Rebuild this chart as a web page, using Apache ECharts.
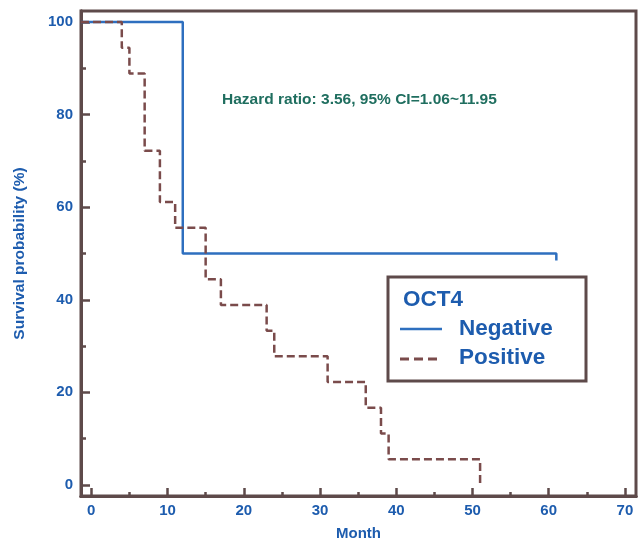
<!DOCTYPE html>
<html>
<head>
<meta charset="utf-8">
<script src="https://cdn.jsdelivr.net/npm/echarts@6/dist/echarts.min.js"></script>
<style>html,body{margin:0;padding:0;background:#fff}#c{width:638px;height:541px}</style>
</head>
<body>
<div id="c"></div>
<script>
// Data
var negativeTimes = [-1.35, 12, 61, 61];
var negativeSurv  = [100, 50, 50, 48.5];
var positiveTimes = [-1.35, 4, 5, 7, 9, 11, 15, 17, 23, 24, 31, 36, 38, 39, 51];
var positiveSurv  = [100, 94.44, 88.89, 72.22, 61.11, 55.56, 44.44, 38.89, 33.33, 27.78, 22.22, 16.67, 11.11, 5.56, 0];
var xMajorTicks = [0, 10, 20, 30, 40, 50, 60, 70];
var xMinorTicks = [5, 15, 25, 35, 45, 55, 65];
var yMajorTicks = [0, 20, 40, 60, 80, 100];
var yMinorTicks = [10, 30, 50, 70, 90];
var legendTitle = 'OCT4';
var seriesNames = ['Negative', 'Positive'];
var annotation = 'Hazard ratio: 3.56, 95% CI=1.06~11.95';

var XMIN = -1.35, XMAX = 71.45, YMIN = -2.4, YMAX = 102.4;
var frame = '#5e4a4a', blue = '#2e6fbf', txtBlue = '#1d5cae', brown = '#7a4b4b', green = '#1f6e5f';
var font = 'Liberation Sans, Arial, sans-serif';

function zip(a, b) { return a.map(function (v, i) { return [v, b[i]]; }); }

function xAxisDef(ticks, len, labels) {
  return {
    type: 'value', min: XMIN, max: XMAX, position: 'bottom',
    axisLine: { show: true, onZero: false, lineStyle: { color: frame, width: 3 } },
    axisTick: { show: true, inside: true, length: len, customValues: ticks, lineStyle: { color: frame, width: 2.5 } },
    axisLabel: labels ? { show: true, customValues: ticks, color: txtBlue, fontWeight: 'bold', fontSize: 15, fontFamily: font, margin: 7 } : { show: false },
    splitLine: { show: false },
    name: labels ? 'Month' : '', nameLocation: 'middle', nameGap: 30,
    nameTextStyle: { color: txtBlue, fontWeight: 'bold', fontSize: 15, fontFamily: font }
  };
}
function yAxisDef(ticks, len, labels) {
  return {
    type: 'value', min: YMIN, max: YMAX, position: 'left',
    axisLine: { show: true, onZero: false, lineStyle: { color: frame, width: 3 } },
    axisTick: { show: true, inside: true, length: len, customValues: ticks, lineStyle: { color: frame, width: 2.5 } },
    axisLabel: labels ? { show: true, customValues: ticks, color: txtBlue, fontWeight: 'bold', fontSize: 15, fontFamily: font, margin: 8 } : { show: false },
    splitLine: { show: false },
    name: labels ? 'Survival probability (%)' : '', nameLocation: 'middle', nameGap: 53,
    nameTextStyle: { color: txtBlue, fontWeight: 'bold', fontSize: 15.5, fontFamily: font }
  };
}

var chart = echarts.init(document.getElementById('c'), null, { renderer: 'canvas' });
chart.setOption({
  animation: false,
  grid: { left: 81, right: 2, top: 11, bottom: 45, show: true, borderColor: frame, borderWidth: 3, backgroundColor: 'transparent', containLabel: false, outerBoundsMode: 'none' },
  xAxis: [xAxisDef(xMajorTicks, 8, true), xAxisDef(xMinorTicks, 4, false)],
  yAxis: [yAxisDef(yMajorTicks, 9, true), yAxisDef(yMinorTicks, 5, false)],
  series: [
    { name: seriesNames[0], type: 'line', step: 'end', xAxisIndex: 0, yAxisIndex: 0,
      data: zip(negativeTimes, negativeSurv), symbol: 'none',
      lineStyle: { color: blue, width: 2.5 }, z: 2 },
    { name: seriesNames[1], type: 'line', step: 'end', xAxisIndex: 0, yAxisIndex: 0,
      data: zip(positiveTimes, positiveSurv), symbol: 'none',
      lineStyle: { color: brown, width: 2.5, type: [8, 4] }, z: 3 }
  ],
  graphic: [
    { type: 'text', x: 222, y: 100, style: { text: annotation, fill: green, font: 'bold 15.5px ' + font, verticalAlign: 'middle' } },
    { type: 'rect', shape: { x: 388, y: 277, width: 198, height: 104 }, style: { fill: '#fff', stroke: frame, lineWidth: 3 }, z: 10 },
    { type: 'text', x: 403, y: 300, style: { text: legendTitle, fill: txtBlue, font: 'bold 22.5px ' + font, verticalAlign: 'middle' }, z: 11 },
    { type: 'line', shape: { x1: 400, y1: 329, x2: 442, y2: 329 }, style: { stroke: blue, lineWidth: 2.5 }, z: 11 },
    { type: 'text', x: 459, y: 329, style: { text: seriesNames[0], fill: txtBlue, font: 'bold 22.5px ' + font, verticalAlign: 'middle' }, z: 11 },
    { type: 'line', shape: { x1: 400, y1: 359, x2: 442, y2: 359 }, style: { stroke: brown, lineWidth: 3, lineDash: [9, 5] }, z: 11 },
    { type: 'text', x: 459, y: 358, style: { text: seriesNames[1], fill: txtBlue, font: 'bold 22.5px ' + font, verticalAlign: 'middle' }, z: 11 }
  ]
});
</script>
</body>
</html>
